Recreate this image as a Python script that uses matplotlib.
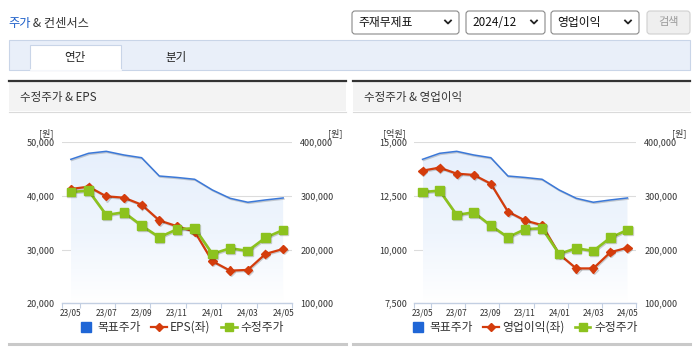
import numpy as np
import matplotlib.pyplot as plt
from matplotlib.patches import Rectangle, FancyBboxPatch
from matplotlib.lines import Line2D
from matplotlib.colors import LinearSegmentedColormap
from matplotlib.ticker import FuncFormatter
import matplotlib.patheffects as pe

plt.rcParams['font.family'] = ['Noto Sans CJK KR', 'DejaVu Sans']

W, H = 695, 349

# monthly series, 23/05 .. 24/05
months = ['23/05', '23/06', '23/07', '23/08', '23/09', '23/10', '23/11',
          '23/12', '24/01', '24/02', '24/03', '24/04', '24/05']
target_price = [368300, 379500, 383200, 376400, 371300, 337200, 334500,
                331100, 311200, 295700, 288300, 292600, 296300]
adj_price = [307400, 309900, 264600, 269600, 244700, 223100, 238000,
             239900, 192000, 202600, 197600, 222300, 236700]
eps = [41300, 41730, 39940, 39680, 38380, 35440, 34360,
       33350, 27840, 26090, 26220, 29200, 30130]
op_income = [13680, 13820, 13540, 13480, 13070, 11770, 11360,
             11140, 9790, 9125, 9125, 9880, 10090]

price_ticks = [100000, 200000, 300000, 400000]
eps_ticks = [20000, 30000, 40000, 50000]
op_ticks = [7500, 10000, 12500, 15000]

BLUE = '#3b78d8'
RED = '#d43c0c'
GREEN = '#8cc21e'
TXT = '#333333'


def frac(x0, y0, x1, y1):
    return [x0 / W, 1 - y1 / H, (x1 - x0) / W, (y1 - y0) / H]


fig = plt.figure(figsize=(W / 100, H / 100), dpi=100)

# page furniture drawn in pixel coordinates
bg = fig.add_axes([0, 0, 1, 1])
bg.set_xlim(0, W)
bg.set_ylim(H, 0)
bg.axis('off')
bg.set_zorder(0)

t1 = bg.text(8, 23, '주가', color='#1a5dc8', fontsize=8.8, va='center')
bg.annotate(' & 컨센서스', xy=(1, 0.5), xycoords=t1, va='center',
            fontsize=8.8, color=TXT)

for x0, x1, label in [(352, 459, '주재무제표'), (466, 545, '2024/12'),
                      (551, 639, '영업이익')]:
    bg.add_patch(FancyBboxPatch((x0, 11), x1 - x0, 23,
                                boxstyle='round,pad=0,rounding_size=3',
                                fc='white', ec='#8a8a8a', lw=0.8))
    bg.text(x0 + 6, 22.5, label, fontsize=8.5, color='#111', va='center')
    bg.plot([x1 - 14, x1 - 11, x1 - 8], [20.5, 23.5, 20.5], color='#222', lw=1.3)
bg.add_patch(FancyBboxPatch((647, 11), 43, 23,
                            boxstyle='round,pad=0,rounding_size=3',
                            fc='#efefef', ec='#d0d0d0', lw=0.8))
bg.text(668.5, 22.5, '검색', fontsize=8, color='#9a9a9a', ha='center', va='center')

# tabs
bg.add_patch(Rectangle((9, 40), 681, 30, fc='#e9eff9', ec='#c9d5e8', lw=0.8))
bg.add_patch(Rectangle((30, 45), 91, 25, fc='white', ec='#c9d5e8', lw=0.8))
bg.plot([30.5, 120.5], [70, 70], color='white', lw=1.2)
bg.text(75, 57, '연간', fontsize=8.3, color='#222', ha='center', va='center')
bg.text(176, 57, '분기', fontsize=8.3, color='#222', ha='center', va='center')

# panel frames
for x0, x1, title in [(9, 346, '수정주가 & EPS'), (353, 690, '수정주가 & 영업이익')]:
    bg.add_patch(Rectangle((x0, 81), x1 - x0, 30, fc='#f3f3f3', ec='none'))
    bg.plot([x0, x1], [80.5, 80.5], color='#333', lw=1.6)
    bg.plot([x0, x1], [111.5, 111.5], color='#dadada', lw=0.8)
    bg.plot([x0, x1], [343.5, 343.5], color='#c9c9c9', lw=2.2)
    bg.text(x0 + 11, 97, title, fontsize=8.3, color=TXT, va='center')

# axis unit labels
for x, s in [(46, '[원]'), (335.5, '[원]'), (394, '[억원]'), (679.5, '[원]')]:
    bg.text(x, 133, s, fontsize=6.5, color=TXT, ha='center', va='center')

fade = LinearSegmentedColormap.from_list(
    'fade', [(0, '#ffffff'), (0.45, '#eff5fd'), (1, '#e7f0fc')])
shadow = [pe.SimpleLineShadow(offset=(0.6, -0.8), alpha=0.18), pe.Normal()]


def draw_chart(box, left_vals, left_ticks, left_name, legend_x):
    ax = fig.add_axes(frac(*box))
    ax.set_zorder(1)
    ax.set_facecolor('none')
    lo, hi = left_ticks[0], left_ticks[-1]

    def to_left(p):
        return lo + (np.asarray(p, dtype=float) - 100000) * (hi - lo) / 300000

    def to_right(v):
        return 100000 + (np.asarray(v, dtype=float) - lo) * 300000 / (hi - lo)

    x = np.arange(len(months))
    tp = to_left(target_price)

    # gradient area under the target price
    area = ax.fill_between(x, tp, lo, color='none', lw=0)
    grad = np.linspace(0, 1, 256).reshape(-1, 1)
    img = ax.imshow(grad, extent=[0, 12, lo, tp.max()], origin='lower',
                    cmap=fade, aspect='auto', zorder=1)
    img.set_clip_path(area.get_paths()[0], transform=ax.transData)

    ax.plot(x, tp, color=BLUE, lw=1.1, zorder=2, path_effects=shadow)
    ax.plot(x, left_vals, color=RED, lw=1.6, marker='D', ms=4.2,
            zorder=3, path_effects=shadow)
    ax.plot(x, to_left(adj_price), color=GREEN, lw=1.9, marker='s', ms=6.2,
            zorder=4, path_effects=shadow)

    ax.set_xlim(-0.5, 12.5)
    ax.set_ylim(lo, hi)
    for s in ['left', 'right', 'top']:
        ax.spines[s].set_visible(False)
    ax.spines['bottom'].set_color('#c3cfe2')
    ax.spines['bottom'].set_linewidth(1)
    ax.spines['bottom'].set_zorder(5)

    ax.set_xticks([-0.5] + list(np.arange(0.5, 13, 2)))
    ax.set_xticklabels([])
    ax.tick_params(axis='x', which='major', length=3.8, color='#c3cfe2', width=0.8)
    ax.set_xticks(x[::2], minor=True)
    ax.set_xticklabels(months[::2], minor=True)
    ax.tick_params(axis='x', which='minor', length=0, pad=4, labelsize=6, labelcolor=TXT)

    ax.set_yticks(left_ticks)
    ax.yaxis.set_major_formatter(FuncFormatter(lambda v, _: f'{v:,.0f}'))
    ax.tick_params(axis='y', length=0, pad=5, labelsize=6.5, labelcolor=TXT)
    ax.yaxis.grid(True, color='#dcdcdc', lw=0.8)
    ax.set_axisbelow(True)

    sec = ax.secondary_yaxis('right', functions=(to_right, to_left))
    sec.set_yticks(price_ticks)
    sec.yaxis.set_major_formatter(FuncFormatter(lambda v, _: f'{v:,.0f}'))
    sec.tick_params(length=0, pad=6, labelsize=6.5, labelcolor=TXT)
    for s in sec.spines.values():
        s.set_visible(False)

    handles = [
        Line2D([], [], ls='none', marker='s', ms=7.5, color='#1f66d6'),
        Line2D([], [], color=RED, lw=1.6, marker='D', ms=4.2),
        Line2D([], [], color=GREEN, lw=1.9, marker='s', ms=6),
    ]
    ax.legend(handles, ['목표주가', left_name, '수정주가'], ncol=3, loc='center',
              bbox_to_anchor=(legend_x, -0.15), frameon=False, fontsize=8.5,
              handlelength=1.3, handletextpad=0.3, columnspacing=0.9,
              labelcolor=TXT, borderaxespad=0)
    return ax


draw_chart((62, 142.3, 292, 303.3), eps, eps_ticks, 'EPS(좌)', 0.517)
draw_chart((414, 142.3, 636, 303.3), op_income, op_ticks, '영업이익(좌)', 0.495)

fig.savefig('out.png', dpi=100)
